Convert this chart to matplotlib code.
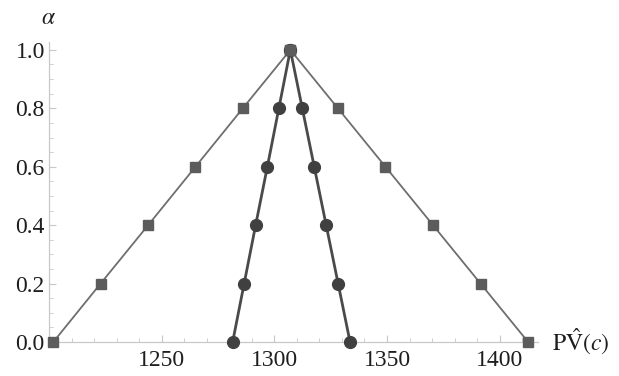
import matplotlib
matplotlib.use("Agg")
import matplotlib.pyplot as plt
from matplotlib.ticker import MultipleLocator

plt.rcParams['mathtext.fontset'] = 'stix'
plt.rcParams['font.family'] = ['Liberation Serif', 'DejaVu Serif']

alpha = [0.0, 0.2, 0.4, 0.6, 0.8, 1.0]
outer_left = [1201.9, 1222.9, 1244.0, 1265.0, 1286.0, 1307.1]
outer_right = [1412.6, 1391.5, 1370.4, 1349.3, 1328.2, 1307.1]
inner_left = [1281.5, 1286.6, 1291.7, 1296.9, 1302.0, 1307.1]
inner_right = [1333.6, 1328.3, 1323.0, 1317.7, 1312.4, 1307.1]

fig = plt.figure(figsize=(6.19, 3.76), dpi=100)
ax = fig.add_axes([49/619, 34/376, (538-49)/619, (342-42)/376])

line_c = '#6e6e6e'
mk_c = '#5c5c5c'
ax.plot(inner_left, alpha, color='#4a4a4a', lw=2.0, marker='o', ms=8.5,
        mfc='#404040', mec='#404040', clip_on=False, zorder=3)
ax.plot(inner_right, alpha, color='#4a4a4a', lw=2.0, marker='o', ms=8.5,
        mfc='#404040', mec='#404040', clip_on=False, zorder=3)
ax.plot(outer_left, alpha, color=line_c, lw=1.3, marker='s', ms=6.5,
        mfc=mk_c, mec=mk_c, clip_on=False, zorder=4)
ax.plot(outer_right, alpha, color=line_c, lw=1.3, marker='s', ms=6.5,
        mfc=mk_c, mec=mk_c, clip_on=False, zorder=4)

ax.set_xlim(1200, 1417)
ax.set_ylim(0, 1.027)

for s in ['top', 'right']:
    ax.spines[s].set_visible(False)
for s in ['left', 'bottom']:
    ax.spines[s].set_color('#c8c8c8')
    ax.spines[s].set_linewidth(0.9)

ax.xaxis.set_major_locator(MultipleLocator(50))
ax.xaxis.set_minor_locator(MultipleLocator(10))
ax.yaxis.set_major_locator(MultipleLocator(0.2))
ax.yaxis.set_minor_locator(MultipleLocator(0.05))
ax.set_xticks([1250, 1300, 1350, 1400])
ax.set_xticklabels(['1250', '1300', '1350', '1400'])
ax.set_yticks(alpha)
ax.set_yticklabels(['0.0', '0.2', '0.4', '0.6', '0.8', '1.0'])

ax.tick_params(which='both', direction='in', color='#c8c8c8', labelsize=17,
               labelcolor='#1e1e1e')
ax.tick_params(which='major', length=5, width=0.8)
ax.tick_params(which='minor', length=3, width=0.6)
ax.tick_params(axis='x', pad=6)
ax.tick_params(axis='y', pad=3)

fig.text(48/619, 1 - 18/376, r'$\alpha$', fontsize=17,
         ha='center', va='center', color='#1e1e1e')
fig.text(552/619, 1 - 342/376, r'$\mathrm{P}\hat{\mathrm{V}}(c)$',
         fontsize=17, ha='left', va='center', color='#1e1e1e')

fig.savefig('out.png', dpi=100)
